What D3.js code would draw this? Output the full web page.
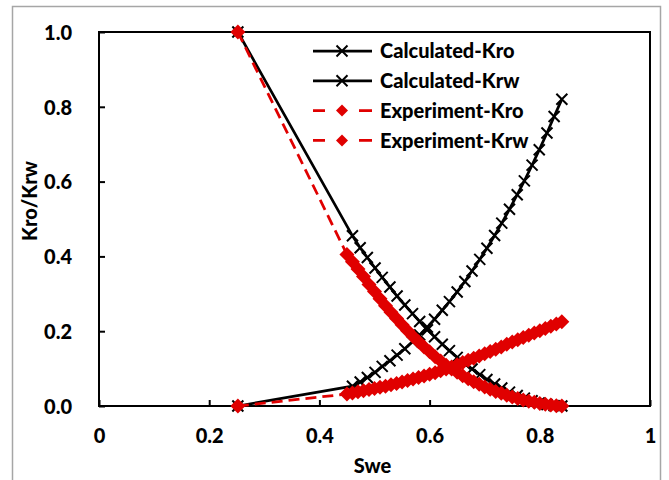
<!DOCTYPE html>
<html>
<head>
<meta charset="utf-8">
<script src="https://cdn.jsdelivr.net/npm/d3@7"></script>
<style>
  html, body { margin: 0; padding: 0; background: #ffffff; }
  svg { display: block; }
  text { font-family: Lato, "Open Sans", sans-serif; font-weight: bold; fill: #000; }
</style>
</head>
<body>
<svg id="chart" width="669" height="480"></svg>
<script>
// Relative permeability curves: oil (Kro) and water (Krw) vs normalized water saturation
const sweCalc = [0.252, 0.460, 0.474, 0.487, 0.501, 0.514, 0.528, 0.541, 0.555, 0.569, 0.582,
  0.596, 0.609, 0.623, 0.636, 0.650, 0.664, 0.677, 0.691, 0.704, 0.718, 0.731, 0.745, 0.759,
  0.772, 0.786, 0.799, 0.813, 0.826, 0.840];
const kroCalc = [1.000, 0.455, 0.423, 0.397, 0.369, 0.344, 0.318, 0.294, 0.270, 0.247, 0.226,
  0.204, 0.185, 0.165, 0.148, 0.130, 0.113, 0.099, 0.084, 0.071, 0.059, 0.048, 0.037, 0.028,
  0.021, 0.014, 0.008, 0.004, 0.001, 0.000];
const krwCalc = [0.000, 0.053, 0.064, 0.076, 0.090, 0.106, 0.121, 0.136, 0.153, 0.172, 0.190,
  0.211, 0.232, 0.256, 0.279, 0.305, 0.333, 0.361, 0.392, 0.422, 0.456, 0.489, 0.526, 0.565,
  0.602, 0.644, 0.685, 0.730, 0.774, 0.820];

const sweExp = [0.252, 0.45, 0.46, 0.47, 0.48, 0.49, 0.50, 0.51, 0.52, 0.53, 0.54, 0.55, 0.56,
  0.57, 0.58, 0.59, 0.60, 0.61, 0.62, 0.63, 0.64, 0.65, 0.66, 0.67, 0.68, 0.69, 0.70, 0.71,
  0.72, 0.73, 0.74, 0.75, 0.76, 0.77, 0.78, 0.79, 0.80, 0.81, 0.82, 0.83, 0.84];
const kroExp = [1.000, 0.405, 0.386, 0.366, 0.346, 0.325, 0.306, 0.287, 0.268, 0.251, 0.234,
  0.217, 0.201, 0.186, 0.172, 0.158, 0.145, 0.132, 0.120, 0.109, 0.099, 0.090, 0.081, 0.073,
  0.065, 0.058, 0.051, 0.045, 0.039, 0.034, 0.029, 0.024, 0.020, 0.016, 0.013, 0.010, 0.007,
  0.005, 0.003, 0.001, 0.000];
const krwExp = [0.000, 0.032, 0.035, 0.038, 0.041, 0.044, 0.047, 0.050, 0.053, 0.057, 0.060,
  0.064, 0.068, 0.072, 0.076, 0.080, 0.085, 0.089, 0.094, 0.099, 0.104, 0.110, 0.116, 0.122,
  0.128, 0.134, 0.140, 0.146, 0.152, 0.158, 0.165, 0.171, 0.177, 0.183, 0.189, 0.195, 0.201,
  0.207, 0.213, 0.219, 0.225];

const seriesNames = ["Calculated-Kro", "Calculated-Krw", "Experiment-Kro", "Experiment-Krw"];
const xTickValues = [0, 0.2, 0.4, 0.6, 0.8, 1];
const xTickLabels = ["0", "0.2", "0.4", "0.6", "0.8", "1"];
const yTickValues = [0, 0.2, 0.4, 0.6, 0.8, 1.0];
const yTickLabels = ["0.0", "0.2", "0.4", "0.6", "0.8", "1.0"];
const xTitle = "Swe";
const yTitle = "Kro/Krw";

const RED = "#e00000";
const FONT = "20px";

const svg = d3.select("#chart");

// outer chart frame
svg.append("rect")
  .attr("x", 12.5).attr("y", 6.5)
  .attr("width", 648).attr("height", 490)
  .attr("fill", "#ffffff")
  .attr("stroke", "#a6a6a6").attr("stroke-width", 1.5);

const plot = { left: 99, right: 650, top: 32, bottom: 406 };

const x = d3.scaleLinear().domain([0, 1]).range([plot.left, plot.right]);
const y = d3.scaleLinear().domain([0, 1]).range([plot.bottom, plot.top]);

// axes with inward ticks
const xAxis = d3.axisBottom(x)
  .tickValues(xTickValues)
  .tickFormat((d, i) => xTickLabels[i])
  .tickSizeInner(-6).tickSizeOuter(0).tickPadding(20);
const yAxis = d3.axisLeft(y)
  .tickValues(yTickValues)
  .tickFormat((d, i) => yTickLabels[i])
  .tickSizeInner(-6).tickSizeOuter(0).tickPadding(27);

const gx = svg.append("g").attr("transform", `translate(0,${plot.bottom})`).call(xAxis);
const gy = svg.append("g").attr("transform", `translate(${plot.left},0)`).call(yAxis);
[gx, gy].forEach(g => {
  g.select(".domain").remove();
  g.selectAll(".tick line").attr("stroke", "#000").attr("stroke-width", 2);
  g.selectAll(".tick text")
    .style("font-family", "Lato, sans-serif")
    .style("font-weight", "900")
    .style("font-size", FONT)
    .attr("fill", "#000");
});
gx.selectAll(".tick text").attr("dy", "0.71em").attr("y", 23);
gy.selectAll(".tick text").attr("dy", "0.36em");

// plot area border
svg.append("rect")
  .attr("x", plot.left).attr("y", plot.top)
  .attr("width", plot.right - plot.left).attr("height", plot.bottom - plot.top)
  .attr("fill", "none").attr("stroke", "#000").attr("stroke-width", 2);

// axis titles
svg.append("text")
  .attr("x", (plot.left + plot.right) / 2 - 2).attr("y", 473)
  .attr("text-anchor", "middle")
  .style("font-size", FONT).style("font-weight", "900")
  .text(xTitle);
svg.append("text")
  .attr("transform", "translate(37,201) rotate(-90)")
  .attr("text-anchor", "middle")
  .style("font-size", FONT).style("font-weight", "900")
  .text(yTitle);

const line = d3.line().x(d => x(d[0])).y(d => y(d[1]));
const zip = (a, b) => a.map((v, i) => [v, b[i]]);

const crossPath = s => `M${-s},${-s}L${s},${s}M${-s},${s}L${s},${-s}`;
const diamondPath = r => `M0,${-r}L${r},0L0,${r}L${-r},0Z`;

const series = [
  { name: seriesNames[0], pts: zip(sweCalc, kroCalc), kind: "calc" },
  { name: seriesNames[1], pts: zip(sweCalc, krwCalc), kind: "calc" },
  { name: seriesNames[2], pts: zip(sweExp, kroExp), kind: "exp" },
  { name: seriesNames[3], pts: zip(sweExp, krwExp), kind: "exp" }
];

series.forEach(s => {
  const g = svg.append("g");
  if (s.kind === "calc") {
    g.append("path").attr("d", line(s.pts))
      .attr("fill", "none").attr("stroke", "#000").attr("stroke-width", 2.75);
    g.selectAll("path.m").data(s.pts).join("path").attr("class", "m")
      .attr("transform", d => `translate(${x(d[0])},${y(d[1])})`)
      .attr("d", crossPath(5.5))
      .attr("stroke", "#000").attr("stroke-width", 2).attr("fill", "none");
  } else {
    g.append("path").attr("d", line(s.pts))
      .attr("fill", "none").attr("stroke", RED).attr("stroke-width", 2.75)
      .attr("stroke-dasharray", "11,6");
    g.selectAll("path.m").data(s.pts).join("path").attr("class", "m")
      .attr("transform", d => `translate(${x(d[0])},${y(d[1])})`)
      .attr("d", diamondPath(7.5))
      .attr("fill", RED);
  }
});

// legend
const legend = svg.append("g");
series.forEach((s, i) => {
  const cy = 51 + i * 29.8;
  const row = legend.append("g").attr("transform", `translate(0,${cy})`);
  if (s.kind === "calc") {
    row.append("line").attr("x1", 313).attr("x2", 372).attr("y1", 0).attr("y2", 0)
      .attr("stroke", "#000").attr("stroke-width", 2.75);
    row.append("path").attr("transform", "translate(342,0)")
      .attr("d", crossPath(5.5)).attr("stroke", "#000").attr("stroke-width", 2);
  } else {
    [[313, 325], [359, 372]].forEach(seg => {
      row.append("line").attr("x1", seg[0]).attr("x2", seg[1]).attr("y1", 0).attr("y2", 0)
        .attr("stroke", RED).attr("stroke-width", 2.75);
    });
    row.append("path").attr("transform", "translate(342,0)")
      .attr("d", diamondPath(6)).attr("fill", RED);
  }
  row.append("text").attr("x", 380).attr("y", 0).attr("dy", "0.36em")
    .style("font-size", FONT).style("font-weight", "900")
    .text(s.name);
});
</script>
</body>
</html>
